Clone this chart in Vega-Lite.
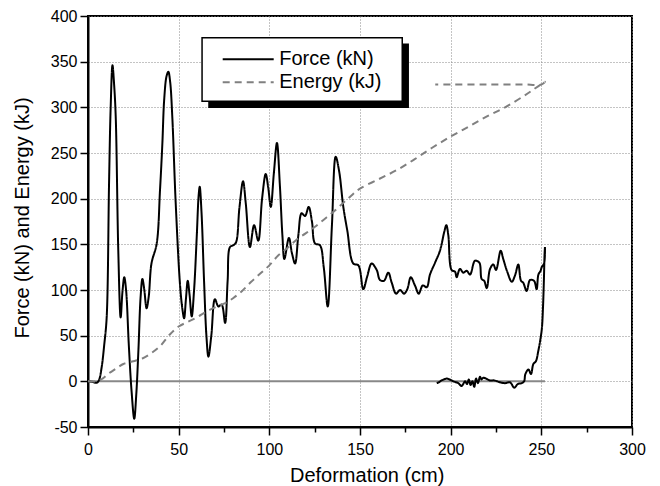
{
"$schema": "https://vega.github.io/schema/vega-lite/v6.json",
"width": 544, "height": 411,
"autosize": {"type": "none"},
"padding": {"left": 88, "top": 16, "right": 28, "bottom": 59},
"background": "white",
"config": {
  "view": {"stroke": "black", "strokeWidth": 2},
  "font": "Liberation Sans",
  "axis": {"domainColor": "black", "domainWidth": 2, "tickColor": "black", "tickWidth": 1.5, "labelFont": "Liberation Sans", "labelFontSize": 16, "labelColor": "black", "titleFont": "Liberation Sans", "titleFontSize": 20, "titleFontWeight": "normal", "titleColor": "black"}
},
"datasets": {
  "zero": [{"d": 0, "v": 0}, {"d": 252, "v": 0}],
  "curves": [
{"s":"Force (kN)","i":0,"d":0,"v":0},{"s":"Force (kN)","i":1,"d":2,"v":-0.5},{"s":"Force (kN)","i":2,"d":4.8,"v":-1.5},{"s":"Force (kN)","i":3,"d":6,"v":1},{"s":"Force (kN)","i":4,"d":7.5,"v":15},{"s":"Force (kN)","i":5,"d":9,"v":41},{"s":"Force (kN)","i":6,"d":10.3,"v":70},{"s":"Force (kN)","i":7,"d":11.6,"v":216},{"s":"Force (kN)","i":8,"d":12.5,"v":300},{"s":"Force (kN)","i":9,"d":13.5,"v":346},
{"s":"Force (kN)","i":10,"d":14.4,"v":325},{"s":"Force (kN)","i":11,"d":15.3,"v":289},{"s":"Force (kN)","i":12,"d":16.7,"v":143},{"s":"Force (kN)","i":13,"d":18,"v":70},{"s":"Force (kN)","i":14,"d":19,"v":98},{"s":"Force (kN)","i":15,"d":20,"v":114},{"s":"Force (kN)","i":16,"d":21,"v":100},{"s":"Force (kN)","i":17,"d":22.5,"v":40},{"s":"Force (kN)","i":18,"d":24,"v":-10},{"s":"Force (kN)","i":19,"d":25.5,"v":-41},
{"s":"Force (kN)","i":20,"d":26.6,"v":-15},{"s":"Force (kN)","i":21,"d":27.8,"v":34},{"s":"Force (kN)","i":22,"d":29,"v":92},{"s":"Force (kN)","i":23,"d":30,"v":112},{"s":"Force (kN)","i":24,"d":31,"v":101},{"s":"Force (kN)","i":25,"d":32.3,"v":80},{"s":"Force (kN)","i":26,"d":33.5,"v":93},{"s":"Force (kN)","i":27,"d":35,"v":129},{"s":"Force (kN)","i":28,"d":37.9,"v":151},{"s":"Force (kN)","i":29,"d":39.7,"v":209},
{"s":"Force (kN)","i":30,"d":41,"v":260},{"s":"Force (kN)","i":31,"d":42,"v":308},{"s":"Force (kN)","i":32,"d":43.3,"v":334},{"s":"Force (kN)","i":33,"d":44.3,"v":339},{"s":"Force (kN)","i":34,"d":45.3,"v":328},{"s":"Force (kN)","i":35,"d":46.5,"v":289},{"s":"Force (kN)","i":36,"d":48.3,"v":198},{"s":"Force (kN)","i":37,"d":50.7,"v":107},{"s":"Force (kN)","i":38,"d":52,"v":80},{"s":"Force (kN)","i":39,"d":53,"v":69},
{"s":"Force (kN)","i":40,"d":54,"v":90},{"s":"Force (kN)","i":41,"d":55,"v":110},{"s":"Force (kN)","i":42,"d":56,"v":95},{"s":"Force (kN)","i":43,"d":57.2,"v":71},{"s":"Force (kN)","i":44,"d":58.5,"v":100},{"s":"Force (kN)","i":45,"d":60,"v":160},{"s":"Force (kN)","i":46,"d":61,"v":203},{"s":"Force (kN)","i":47,"d":61.6,"v":213},{"s":"Force (kN)","i":48,"d":62.6,"v":185},{"s":"Force (kN)","i":49,"d":64,"v":110},
{"s":"Force (kN)","i":50,"d":65.3,"v":50},{"s":"Force (kN)","i":51,"d":66.4,"v":27},{"s":"Force (kN)","i":52,"d":68,"v":50},{"s":"Force (kN)","i":53,"d":70,"v":90},{"s":"Force (kN)","i":54,"d":71.9,"v":82},{"s":"Force (kN)","i":55,"d":73.7,"v":84},{"s":"Force (kN)","i":56,"d":75.6,"v":64},{"s":"Force (kN)","i":57,"d":77,"v":110},{"s":"Force (kN)","i":58,"d":78.3,"v":147},{"s":"Force (kN)","i":59,"d":80.1,"v":149},
{"s":"Force (kN)","i":60,"d":81.6,"v":152},{"s":"Force (kN)","i":61,"d":83.5,"v":190},{"s":"Force (kN)","i":62,"d":85.5,"v":219},{"s":"Force (kN)","i":63,"d":87,"v":195},{"s":"Force (kN)","i":64,"d":89.3,"v":147},{"s":"Force (kN)","i":65,"d":91.6,"v":171},{"s":"Force (kN)","i":66,"d":93.9,"v":154},{"s":"Force (kN)","i":67,"d":96,"v":200},{"s":"Force (kN)","i":68,"d":98,"v":227},{"s":"Force (kN)","i":69,"d":99.4,"v":212},
{"s":"Force (kN)","i":70,"d":100.8,"v":191},{"s":"Force (kN)","i":71,"d":102.5,"v":228},{"s":"Force (kN)","i":72,"d":104.2,"v":261},{"s":"Force (kN)","i":73,"d":105.8,"v":215},{"s":"Force (kN)","i":74,"d":107.2,"v":160},{"s":"Force (kN)","i":75,"d":108.3,"v":134},{"s":"Force (kN)","i":76,"d":110.8,"v":157},{"s":"Force (kN)","i":77,"d":112.5,"v":140},{"s":"Force (kN)","i":78,"d":114.2,"v":129},{"s":"Force (kN)","i":79,"d":116,"v":160},
{"s":"Force (kN)","i":80,"d":117.8,"v":184},{"s":"Force (kN)","i":81,"d":119.7,"v":181},{"s":"Force (kN)","i":82,"d":121.7,"v":191},{"s":"Force (kN)","i":83,"d":123.5,"v":175},{"s":"Force (kN)","i":84,"d":125.2,"v":151},{"s":"Force (kN)","i":85,"d":127.9,"v":149},{"s":"Force (kN)","i":86,"d":130,"v":125},{"s":"Force (kN)","i":87,"d":132.2,"v":82},{"s":"Force (kN)","i":88,"d":134.5,"v":170},{"s":"Force (kN)","i":89,"d":136.6,"v":246},
{"s":"Force (kN)","i":90,"d":138.5,"v":230},{"s":"Force (kN)","i":91,"d":140.8,"v":191},{"s":"Force (kN)","i":92,"d":143,"v":165},{"s":"Force (kN)","i":93,"d":146.3,"v":129},{"s":"Force (kN)","i":94,"d":149.1,"v":127},{"s":"Force (kN)","i":95,"d":151.8,"v":101},{"s":"Force (kN)","i":96,"d":154,"v":115},{"s":"Force (kN)","i":97,"d":156.4,"v":129},{"s":"Force (kN)","i":98,"d":159.2,"v":122},{"s":"Force (kN)","i":99,"d":161,"v":111},
{"s":"Force (kN)","i":100,"d":163.2,"v":110},{"s":"Force (kN)","i":101,"d":165.6,"v":119},{"s":"Force (kN)","i":102,"d":167.5,"v":108},{"s":"Force (kN)","i":103,"d":169.9,"v":96},{"s":"Force (kN)","i":104,"d":172.1,"v":100},{"s":"Force (kN)","i":105,"d":174.3,"v":96},{"s":"Force (kN)","i":106,"d":176.1,"v":101},{"s":"Force (kN)","i":107,"d":178,"v":114},{"s":"Force (kN)","i":108,"d":180.3,"v":105},{"s":"Force (kN)","i":109,"d":182.4,"v":96},
{"s":"Force (kN)","i":110,"d":184.6,"v":105},{"s":"Force (kN)","i":111,"d":186.8,"v":103},{"s":"Force (kN)","i":112,"d":188.6,"v":117},{"s":"Force (kN)","i":113,"d":191.4,"v":130},{"s":"Force (kN)","i":114,"d":194.1,"v":143},{"s":"Force (kN)","i":115,"d":196.5,"v":164},{"s":"Force (kN)","i":116,"d":197.6,"v":171},{"s":"Force (kN)","i":117,"d":198.7,"v":160},{"s":"Force (kN)","i":118,"d":200.5,"v":122},{"s":"Force (kN)","i":119,"d":202.4,"v":120},
{"s":"Force (kN)","i":120,"d":203.3,"v":114},{"s":"Force (kN)","i":121,"d":205.1,"v":123},{"s":"Force (kN)","i":122,"d":207,"v":119},{"s":"Force (kN)","i":123,"d":208.8,"v":121},{"s":"Force (kN)","i":124,"d":210.7,"v":117},{"s":"Force (kN)","i":125,"d":213.4,"v":132},{"s":"Force (kN)","i":126,"d":215.8,"v":130},{"s":"Force (kN)","i":127,"d":217.1,"v":112},{"s":"Force (kN)","i":128,"d":218.5,"v":110},{"s":"Force (kN)","i":129,"d":219.9,"v":102},
{"s":"Force (kN)","i":130,"d":221.7,"v":123},{"s":"Force (kN)","i":131,"d":223.5,"v":128},{"s":"Force (kN)","i":132,"d":225,"v":122},{"s":"Force (kN)","i":133,"d":227.6,"v":143},{"s":"Force (kN)","i":134,"d":229,"v":134},{"s":"Force (kN)","i":135,"d":231.2,"v":120},{"s":"Force (kN)","i":136,"d":233.7,"v":109},{"s":"Force (kN)","i":137,"d":235.5,"v":116},{"s":"Force (kN)","i":138,"d":237.3,"v":128},{"s":"Force (kN)","i":139,"d":238.8,"v":110},
{"s":"Force (kN)","i":140,"d":240,"v":108},{"s":"Force (kN)","i":141,"d":241.9,"v":99},{"s":"Force (kN)","i":142,"d":243.8,"v":111},{"s":"Force (kN)","i":143,"d":246,"v":110},{"s":"Force (kN)","i":144,"d":247.4,"v":101},{"s":"Force (kN)","i":145,"d":248.4,"v":117},{"s":"Force (kN)","i":146,"d":249.6,"v":121},{"s":"Force (kN)","i":147,"d":250.2,"v":125},{"s":"Force (kN)","i":148,"d":251.5,"v":129},{"s":"Force (kN)","i":149,"d":252,"v":147},
{"s":"Force (kN)","i":150,"d":251.8,"v":140},{"s":"Force (kN)","i":151,"d":251.4,"v":110},{"s":"Force (kN)","i":152,"d":250.9,"v":80},{"s":"Force (kN)","i":153,"d":250.3,"v":58},{"s":"Force (kN)","i":154,"d":249.4,"v":45},{"s":"Force (kN)","i":155,"d":248.3,"v":33},{"s":"Force (kN)","i":156,"d":247,"v":22},{"s":"Force (kN)","i":157,"d":245.6,"v":19},{"s":"Force (kN)","i":158,"d":244.3,"v":8},{"s":"Force (kN)","i":159,"d":242.9,"v":13},
{"s":"Force (kN)","i":160,"d":241.2,"v":8},{"s":"Force (kN)","i":161,"d":240.5,"v":0},{"s":"Force (kN)","i":162,"d":239.2,"v":-2},{"s":"Force (kN)","i":163,"d":237,"v":-3},{"s":"Force (kN)","i":164,"d":235.1,"v":-7},{"s":"Force (kN)","i":165,"d":232.7,"v":-1},{"s":"Force (kN)","i":166,"d":230,"v":-2},{"s":"Force (kN)","i":167,"d":227.2,"v":-1},{"s":"Force (kN)","i":168,"d":224,"v":1},{"s":"Force (kN)","i":169,"d":221.7,"v":1},
{"s":"Force (kN)","i":170,"d":218,"v":4},{"s":"Force (kN)","i":171,"d":217,"v":2},{"s":"Force (kN)","i":172,"d":216.2,"v":5},{"s":"Force (kN)","i":173,"d":215,"v":-2},{"s":"Force (kN)","i":174,"d":214,"v":3},{"s":"Force (kN)","i":175,"d":213,"v":-6},{"s":"Force (kN)","i":176,"d":212,"v":0},{"s":"Force (kN)","i":177,"d":211,"v":-4},{"s":"Force (kN)","i":178,"d":210,"v":2},{"s":"Force (kN)","i":179,"d":209,"v":-3},
{"s":"Force (kN)","i":180,"d":208,"v":0},{"s":"Force (kN)","i":181,"d":206,"v":-5},{"s":"Force (kN)","i":182,"d":204.2,"v":-2},{"s":"Force (kN)","i":183,"d":203,"v":-1},{"s":"Force (kN)","i":184,"d":201.5,"v":0},{"s":"Force (kN)","i":185,"d":199.5,"v":2},{"s":"Force (kN)","i":186,"d":197.8,"v":3},{"s":"Force (kN)","i":187,"d":195,"v":1},{"s":"Force (kN)","i":188,"d":193.5,"v":-1},{"s":"Force (kN)","i":189,"d":192.3,"v":-2},
{"s":"Energy (kJ)","i":0,"d":0,"v":0},{"s":"Energy (kJ)","i":1,"d":5,"v":0},{"s":"Energy (kJ)","i":2,"d":8,"v":3},{"s":"Energy (kJ)","i":3,"d":11,"v":8},{"s":"Energy (kJ)","i":4,"d":14,"v":12},{"s":"Energy (kJ)","i":5,"d":17,"v":16},{"s":"Energy (kJ)","i":6,"d":19.5,"v":19},{"s":"Energy (kJ)","i":7,"d":25,"v":22},{"s":"Energy (kJ)","i":8,"d":30,"v":25},{"s":"Energy (kJ)","i":9,"d":35,"v":31},
{"s":"Energy (kJ)","i":10,"d":40,"v":39},{"s":"Energy (kJ)","i":11,"d":45,"v":51},{"s":"Energy (kJ)","i":12,"d":50,"v":60},{"s":"Energy (kJ)","i":13,"d":55,"v":65},{"s":"Energy (kJ)","i":14,"d":60,"v":70},{"s":"Energy (kJ)","i":15,"d":65,"v":76},{"s":"Energy (kJ)","i":16,"d":70,"v":81},{"s":"Energy (kJ)","i":17,"d":75,"v":85},{"s":"Energy (kJ)","i":18,"d":80,"v":91},{"s":"Energy (kJ)","i":19,"d":85,"v":99},
{"s":"Energy (kJ)","i":20,"d":90,"v":109},{"s":"Energy (kJ)","i":21,"d":95,"v":118},{"s":"Energy (kJ)","i":22,"d":100,"v":127},{"s":"Energy (kJ)","i":23,"d":105,"v":138},{"s":"Energy (kJ)","i":24,"d":110,"v":146},{"s":"Energy (kJ)","i":25,"d":115,"v":155},{"s":"Energy (kJ)","i":26,"d":120,"v":162},{"s":"Energy (kJ)","i":27,"d":125,"v":169},{"s":"Energy (kJ)","i":28,"d":130,"v":177},{"s":"Energy (kJ)","i":29,"d":135,"v":185},
{"s":"Energy (kJ)","i":30,"d":140,"v":194},{"s":"Energy (kJ)","i":31,"d":145,"v":203},{"s":"Energy (kJ)","i":32,"d":150,"v":211},{"s":"Energy (kJ)","i":33,"d":160,"v":221},{"s":"Energy (kJ)","i":34,"d":170,"v":231},{"s":"Energy (kJ)","i":35,"d":180,"v":243},{"s":"Energy (kJ)","i":36,"d":190,"v":256},{"s":"Energy (kJ)","i":37,"d":200,"v":268},{"s":"Energy (kJ)","i":38,"d":210,"v":279},{"s":"Energy (kJ)","i":39,"d":220,"v":290},
{"s":"Energy (kJ)","i":40,"d":230,"v":300},{"s":"Energy (kJ)","i":41,"d":240,"v":312},{"s":"Energy (kJ)","i":42,"d":246,"v":320},{"s":"Energy (kJ)","i":43,"d":252,"v":328},{"s":"Energy (kJ)","i":44,"d":250,"v":325},{"s":"Energy (kJ)","i":45,"d":240,"v":325},{"s":"Energy (kJ)","i":46,"d":220,"v":325},{"s":"Energy (kJ)","i":47,"d":200,"v":325},{"s":"Energy (kJ)","i":48,"d":191.5,"v":325}
  ]
},
"layer": [
  {"data": {"name": "zero"}, "mark": {"type": "line", "color": "#888888", "strokeWidth": 2},
   "encoding": {
  "x": {"field": "d", "type": "quantitative", "scale": {"domain": [0, 300], "nice": false, "zero": false},
    "axis": {"values": [0,25,50,75,100,125,150,175,200,225,250,275,300], "grid": true, "gridColor": "#888888", "gridDash": [1, 2], "gridWidth": 1,
      "gridOpacity": {"condition": {"test": "datum.value % 50 == 0", "value": 1}, "value": 0},
      "tickSize": {"condition": {"test": "datum.value % 50 == 0", "value": 8}, "value": 5},
      "labelExpr": "datum.value % 50 == 0 ? '' + datum.value : ''",
      "labelPadding": 6, "labelFlush": false,
      "titleX": 278.7, "titleY": 54, "titleBaseline": "alphabetic", "titleAlign": "center"},
    "title": "Deformation (cm)"},
  "y": {"field": "v", "type": "quantitative", "scale": {"domain": [-50, 400], "nice": false, "zero": false},
    "axis": {"values": [-50,-25,0,25,50,75,100,125,150,175,200,225,250,275,300,325,350,375,400], "grid": true, "gridDash": [1, 2], "gridWidth": 1,
      "labelExpr": "datum.value % 50 == 0 ? '' + datum.value : ''",
      "tickSize": {"condition": {"test": "datum.value % 50 == 0", "value": 8}, "value": 5},
      "gridOpacity": {"condition": {"test": "datum.value % 50 == 0", "value": 1}, "value": 0},
      "gridColor": "#888888",
      "labelPadding": 3, "labelFlush": false,
      "titleX": -59.7, "titleY": 201.5, "titleBaseline": "alphabetic", "titleAlign": "center", "titleAngle": 270},
    "title": "Force (kN) and Energy (kJ)"}
   }},
  {"data": {"name": "curves"},
   "mark": {"type": "line", "strokeWidth": 2, "interpolate": "catmull-rom"},
   "encoding": {
     "x": {"field": "d", "type": "quantitative"},
     "y": {"field": "v", "type": "quantitative"},
     "order": {"field": "i", "type": "quantitative"},
     "color": {"field": "s", "type": "nominal",
       "scale": {"domain": ["Force (kN)", "Energy (kJ)"], "range": ["#000000", "#808080"]},
       "legend": {"orient": "none", "legendX": 150.2, "legendY": 33.2, "title": null, "direction": "vertical",
         "symbolType": "M-5.1,0H5.1", "symbolSize": 100, "symbolStrokeWidth": 2,
         "labelFont": "Liberation Sans", "labelFontSize": 20, "labelColor": "black", "labelOffset": 21, "rowPadding": 3, "padding": 0}},
     "strokeDash": {"field": "s", "type": "nominal",
       "scale": {"domain": ["Force (kN)", "Energy (kJ)"], "range": [[1, 0], [7, 5]]}}
   }},
  {"data": {"values": [{"k": 1}]}, "mark": {"type": "rect", "fill": "black"},
   "encoding": {"x": {"datum": 66.3}, "x2": {"datum": 177.0}, "y": {"datum": 369.8}, "y2": {"datum": 299.2}}},
  {"data": {"values": [{"k": 1}]}, "mark": {"type": "rect", "fill": "white", "stroke": "black", "strokeWidth": 1.5},
   "encoding": {"x": {"datum": 62.9}, "x2": {"datum": 173.3}, "y": {"datum": 376.3}, "y2": {"datum": 306.6}}}
]
}
